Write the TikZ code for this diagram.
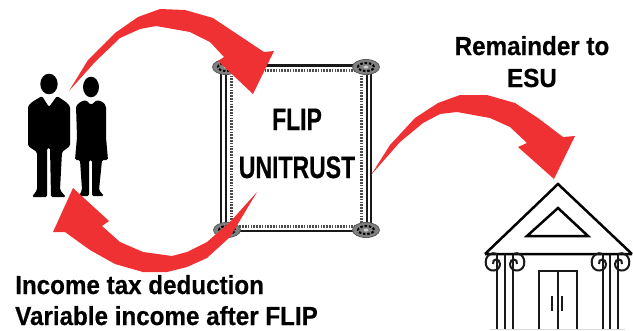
\documentclass[tikz,border=0pt]{standalone}
\usepackage{fontspec}
\setmainfont[BoldFeatures={FakeBold=0.5}]{Liberation Sans}
\definecolor{arrowred}{HTML}{F03133}
\tikzset{
  x=1pt,y=-1pt,
  label text/.style={font=\bfseries\fontsize{24.2}{28}\selectfont,inner sep=0pt,anchor=base west,yscale=1.08},
  tall text/.style={font=\bfseries\fontsize{23}{28}\selectfont,inner sep=0pt,anchor=base,yscale=1.35},
  curved arrow/.style={fill=arrowred,draw=none},
  figure/.style={fill=black,draw=none,rounded corners=1.5pt},
  frame line/.style={draw=black!90,line width=2.2pt},
  frame dots/.style={draw=black!70,line width=3pt,dash pattern=on 1.5pt off 1.3pt},
  rosette/.style={fill=black!50,draw=black!65,line width=.8pt},
  rosette swirl/.style={draw=black,line width=2pt,dash pattern=on 2.5pt off 1.8pt},
  house line/.style={draw=black!90,line width=2pt,line join=miter},
  house heavy/.style={draw=black,line width=2.5pt,line join=miter},
}
\newcommand{\scrollmark}[3]{%
  \draw[house line,xshift=#1pt,yshift=-#2pt,xscale=#3]
    (0,-8) .. controls (5,-11) and (13,-6) .. (11,3)
    .. controls (9,11) and (-3,10) .. (-3,2)
    .. controls (-3,-4) and (5,-4) .. (4,2);}
\newcommand{\rosettemark}[2]{%
  \fill[rosette] (#1,#2) ellipse [x radius=13.5pt,y radius=7.5pt];
  \draw[rosette swirl] (#1,#2) ellipse [x radius=8pt,y radius=4pt];
  \fill[black!20] (#1,#2) ellipse [x radius=2.5pt,y radius=1.5pt];}
\begin{document}
\begin{tikzpicture}
\useasboundingbox (0,0) rectangle (633,330);
% man
\fill[black] (49,84) ellipse [x radius=8.7pt,y radius=10.3pt];
\fill[figure] (28,106) -- (32,102) -- (42,96) -- (49,107) -- (57,96) -- (66,102) -- (70,106)
  -- (70,146) -- (62,152) -- (60,190) -- (66,197) -- (51,197) -- (50,148) -- (47,148)
  -- (47,197) -- (32,197) -- (37,190) -- (37,152) -- (28,146) -- cycle;
% woman
\fill[black] (91,87) ellipse [x radius=8pt,y radius=10.3pt];
\fill[figure] (76,106) -- (80,102) -- (86,100) -- (91,105) -- (97,100) -- (103,102) -- (106,106)
  -- (106,137) -- (108,160) -- (102,160) -- (99,190) -- (104,196) -- (92,196) -- (92,160)
  -- (89,160) -- (89,196) -- (79,196) -- (82,190) -- (80,160) -- (75,160) -- (77,137) -- cycle;
% frame
\draw[frame line] (221,66) -- (221,230) (226,66) -- (226,230) (367,66) -- (367,230) (371,66) -- (371,230)
  (221,65.5) -- (371,65.5) (221,231) -- (371,231);
\draw[frame dots] (231,70) -- (231,226) (361,70) -- (361,226) (231,70) -- (361,70) (231,226) -- (361,226);
\rosettemark{226}{67}
\rosettemark{366}{67}
\rosettemark{227}{230}
\rosettemark{366}{230}
% house
\draw[house heavy] (485,254) -- (558,184) -- (632,254) (485,254) -- (632,254);
\draw[house heavy] (558,208) -- (527,236) -- (588,236) -- cycle;
\draw[house line] (497,255) -- (497,330) (505,255) -- (505,330) (513,255) -- (513,330)
  (603,255) -- (603,330) (610,255) -- (610,330) (618,255) -- (618,330);
\draw[house line] (539,330) -- (539,271) -- (577,271) -- (577,330) (558,271) -- (558,330);
\draw[house line] (552,296) -- (552,311) (562,296) -- (562,311);
\draw[black!15,line width=.8pt] (490,329.5) -- (625,329.5);
\scrollmark{497}{262}{-1}
\scrollmark{513}{262}{1}
\scrollmark{603}{262}{-1}
\scrollmark{618}{262}{1}
% arrows
\fill[curved arrow] (69,91) -- (88,60) -- (115,33) -- (138,17) -- (160,9) -- (185,10) -- (213,18)
  -- (264,52) -- (274,51) -- (253,94) -- (218,61) -- (224,57) -- (210,42) -- (190,32) -- (156,26)
  -- (140,29) -- (120,38) -- (95,62) -- cycle;
\fill[curved arrow] (257,192) -- (230,237) -- (207,258) -- (187,267) -- (167,272) -- (143,272)
  -- (115,264) -- (90,250) -- (65,232) -- (53,232) -- (73,188) -- (109,221) -- (102,226)
  -- (120,242) -- (143,252) -- (172,256) -- (187,252) -- (207,242) -- (230,222) -- cycle;
\fill[curved arrow] (371,175) -- (390,145) -- (415,118) -- (438,103) -- (460,95) -- (487,95) -- (515,103)
  -- (538,118) -- (563,137) -- (575,136) -- (554,179) -- (518,147) -- (527,143) -- (510,127)
  -- (490,118) -- (457,112) -- (440,114) -- (423,123) -- (400,142) -- cycle;
% text
\node[tall text] (flip) at (297,130) {FLIP};
\node[tall text] (unitrust) at (297,178) {UNITRUST};
\node[label text,anchor=base] (remainder) at (532,55) {Remainder to};
\node[label text,anchor=base] (esu) at (532,87) {ESU};
\node[label text] (income) at (15,294) {Income tax deduction};
\node[label text] (variable) at (15,325) {Variable income after FLIP};
\end{tikzpicture}
\end{document}
